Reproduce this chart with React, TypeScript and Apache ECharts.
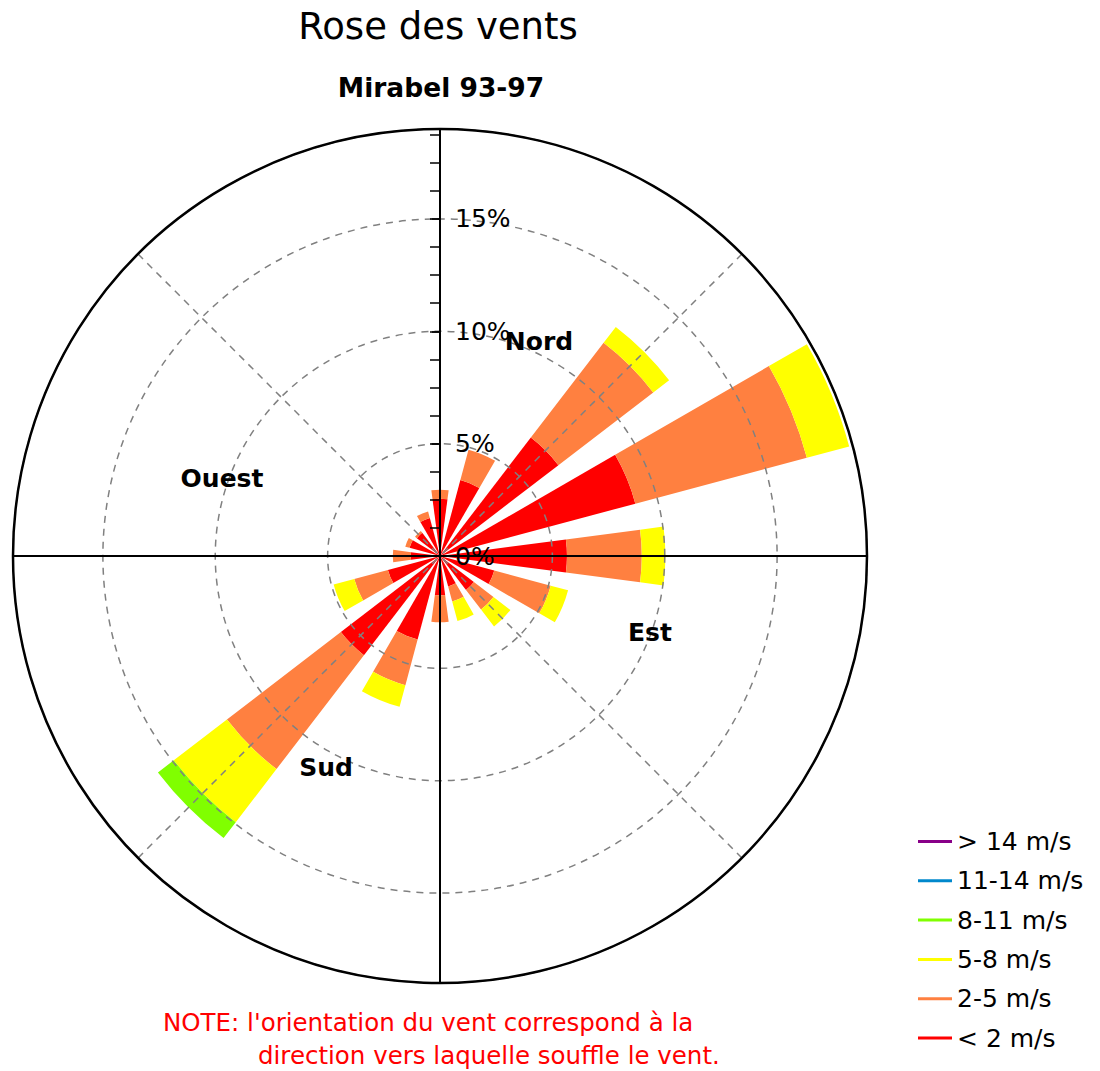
import React, { useEffect, useRef } from "react";
import * as echarts from "echarts";

// ---- data ----
const directions = ["N", "NNE", "NE", "ENE", "E", "ESE", "SE", "SSE", "S", "SSW", "SW", "WSW", "W", "WNW", "NW", "NNW"];
const speedLt2 = [2.55, 3.5, 6.64, 9.0, 5.65, 2.5, 1.9, 1.4, 1.75, 3.85, 5.56, 2.4, 1.3, 1.4, 1.3, 1.75];
const speed2to5 = [0.4, 1.4, 5.32, 7.9, 3.33, 2.6, 1.1, 0.7, 1.2, 2.1, 6.39, 1.55, 0.8, 0.2, 0.1, 0.3];
const speed5to8 = [0, 0, 0.89, 1.95, 1.05, 0.8, 0.95, 0.9, 0, 1.0, 2.98, 0.95, 0, 0, 0, 0];
const speed8to11 = [0, 0, 0, 0, 0, 0, 0, 0, 0, 0, 0.89, 0, 0, 0, 0, 0];
const speed11to14 = [0, 0, 0, 0, 0, 0, 0, 0, 0, 0, 0, 0, 0, 0, 0, 0];
const speedGt14 = [0, 0, 0, 0, 0, 0, 0, 0, 0, 0, 0, 0, 0, 0, 0, 0];

const speedNames = ["< 2 m/s", "2-5 m/s", "5-8 m/s", "8-11 m/s", "11-14 m/s", "> 14 m/s"];
const speedColors = ["#FF0000", "#FF8040", "#FFFF00", "#80FF00", "#0088CC", "#880088"];
const speedData = [speedLt2, speed2to5, speed5to8, speed8to11, speed11to14, speedGt14];

const radiusMax = 19;
const radiusStep = 5;

const titleText = "Rose des vents";
const subtitleText = "Mirabel 93-97";
const compassLabels = ["Nord", "Est", "Sud", "Ouest"];
const noteLines = ["NOTE: l'orientation du vent correspond à la", "direction vers laquelle souffle le vent."];

const FONT = "'DejaVu Sans', Verdana, sans-serif";

function txt(text: string, x: number, y: number, size: number, weight: string, fill: string, align: string) {
  return {
    type: "text",
    x,
    y,
    z: 10,
    style: {
      text,
      fontSize: size,
      fontFamily: FONT,
      fontWeight: weight,
      fill,
      align,
      textAlign: align,
      verticalAlign: "middle",
      textVerticalAlign: "middle",
    },
  };
}

export default function App() {
  const ref = useRef<HTMLDivElement>(null);

  useEffect(() => {
    if (!ref.current) return;
    const chart = echarts.init(ref.current, undefined, { renderer: "svg" });
    const center = [440, 556];
    const radius = 427;

    const series = speedData.map((d, i) => ({
      name: speedNames[i],
      type: "bar",
      coordinateSystem: "polar",
      polarIndex: 0,
      stack: "wind",
      barWidth: "66.7%",
      data: d,
      itemStyle: { color: speedColors[i] },
      z: 2,
    }));

    const option: any = {
      animation: false,
      backgroundColor: "#ffffff",
      polar: [
        { center, radius },
        { center, radius },
        { center, radius },
      ],
      angleAxis: [
        {
          polarIndex: 0,
          type: "category",
          data: directions,
          startAngle: 90 + 360 / directions.length / 2,
          boundaryGap: true,
          axisLine: { show: false },
          axisTick: { show: false },
          axisLabel: { show: false },
          splitLine: { show: false },
        },
        {
          polarIndex: 1,
          type: "value",
          min: 0,
          max: 360,
          interval: 45,
          startAngle: 90,
          axisLine: { show: false },
          axisTick: { show: false },
          axisLabel: { show: false },
          splitLine: { show: true, lineStyle: { color: "#808080", width: 1.5, type: [7, 6] } },
          z: 3,
        },
        {
          polarIndex: 2,
          type: "value",
          min: 0,
          max: 360,
          interval: 90,
          startAngle: 90,
          axisLine: { show: true, lineStyle: { color: "#000", width: 2.5 } },
          axisTick: { show: false },
          axisLabel: { show: false },
          splitLine: { show: true, lineStyle: { color: "#000", width: 2 } },
          z: 5,
        },
      ],
      radiusAxis: [
        {
          polarIndex: 0,
          min: 0,
          max: radiusMax,
          axisLine: { show: false },
          axisTick: { show: false },
          axisLabel: { show: false },
          splitLine: { show: false },
        },
        {
          polarIndex: 1,
          min: 0,
          max: radiusMax,
          interval: radiusStep,
          axisLine: { show: false },
          axisTick: { show: true, length: 10, lineStyle: { color: "#000", width: 1.5 } },
          minorTick: { show: true, splitNumber: 4, length: 10, lineStyle: { color: "#000", width: 1.5 } },
          axisLabel: {
            show: true,
            formatter: "{value}%",
            margin: -15,
            align: "left",
            fontSize: 25,
            fontFamily: FONT,
            color: "#000",
            showMaxLabel: false,
          },
          splitLine: { show: true, lineStyle: { color: "#808080", width: 1.5, type: [7, 6] } },
          z: 3,
        },
        {
          polarIndex: 2,
          min: 0,
          max: radiusMax,
          interval: radiusStep,
          axisLine: { show: false },
          axisTick: { show: true, inside: true, length: 8, lineStyle: { color: "#000", width: 1.5 } },
          axisLabel: { show: false },
          splitLine: { show: false },
          z: 5,
        },
      ],
      legend: {
        orient: "vertical",
        left: 918,
        top: 829,
        padding: 0,
        itemWidth: 34,
        itemHeight: 3,
        itemGap: 14.3,
        itemTextGap: 10,
        icon: "rect",
        selectedMode: false,
        data: speedNames.slice().reverse(),
        textStyle: { fontSize: 25, lineHeight: 25, fontFamily: FONT, color: "#000" },
      },
      graphic: [
        txt(titleText, 438, 26, 37, "normal", "#000", "center"),
        txt(subtitleText, 441, 87, 26.5, "bold", "#000", "center"),
        txt(compassLabels[0], 539, 341, 25, "bold", "#000", "center"),
        txt(compassLabels[1], 650, 632, 25, "bold", "#000", "center"),
        txt(compassLabels[2], 326, 767, 25, "bold", "#000", "center"),
        txt(compassLabels[3], 222, 478, 25, "bold", "#000", "center"),
        txt(noteLines[0], 163, 1022, 24.5, "normal", "#FF0000", "left"),
        txt(noteLines[1], 258, 1055, 24.5, "normal", "#FF0000", "left"),
      ],
      series,
    };

    chart.setOption(option);
    return () => chart.dispose();
  }, []);

  return (
    <div
      ref={ref}
      style={{ position: "absolute", left: 0, top: 0, width: 1100, height: 1071, background: "#fff" }}
    />
  );
}
